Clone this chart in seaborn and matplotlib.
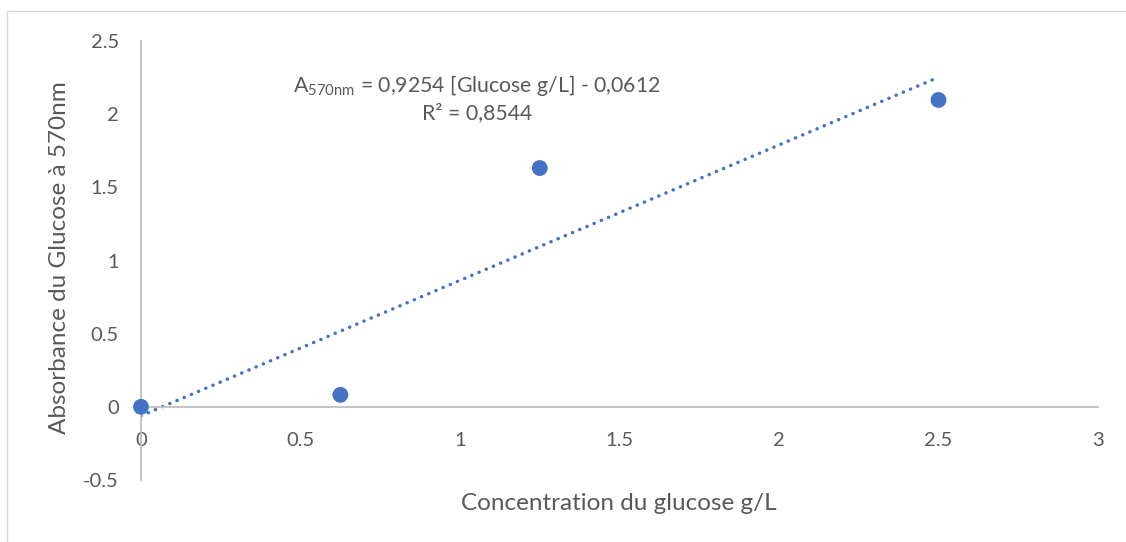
import numpy as np
import pandas as pd
import seaborn as sns
import matplotlib.pyplot as plt
from matplotlib.lines import Line2D

# data
conc = [0, 0.625, 1.25, 2.5]
absorb = [0, 0.082, 1.632, 2.097]
slope = 0.9254
intercept = -0.0612
r2 = "0,8544"

x_ticks = [0, 0.5, 1, 1.5, 2, 2.5, 3]
y_ticks = [-0.5, 0, 0.5, 1, 1.5, 2, 2.5]

df = pd.DataFrame({"conc": conc, "absorb": absorb})

sns.set_theme(style="white")
plt.rcParams["font.family"] = ["Lato", "DejaVu Sans"]
plt.rcParams["mathtext.fontset"] = "custom"
plt.rcParams["mathtext.rm"] = "Lato"

blue = "#4472C4"
grey_txt = "#595959"
grey_ax = "#BFBFBF"

fig = plt.figure(figsize=(11.26, 5.42), dpi=100)
ax = fig.add_axes([141 / 1126, 1 - 480 / 542, (1098 - 141) / 1126, (480 - 41) / 542])

# trendline over data range
xl = np.array([min(conc), max(conc)])
ax.plot(xl, slope * xl + intercept, color=blue, lw=2.5,
        linestyle=(0, (0.05, 2.2)), dash_capstyle="round", zorder=2)

sns.scatterplot(data=df, x="conc", y="absorb", ax=ax, color=blue, s=130,
                edgecolor="none", zorder=3, clip_on=False)

ax.set_xlim(0, 3)
ax.set_ylim(-0.5, 2.5)
ax.set_xticks(x_ticks)
ax.set_yticks(y_ticks)
ax.set_xticklabels([f"{t:g}" for t in x_ticks])
ax.set_yticklabels([f"{t:g}" for t in y_ticks])

for s in ["top", "right"]:
    ax.spines[s].set_visible(False)
ax.spines["left"].set_position(("data", 0))
ax.spines["bottom"].set_position(("data", 0))
ax.spines["left"].set_color(grey_ax)
ax.spines["bottom"].set_color(grey_ax)
ax.spines["left"].set_linewidth(1.3)
ax.spines["bottom"].set_linewidth(1.3)
ax.tick_params(length=0, labelsize=14.5, colors=grey_txt)
ax.tick_params(axis="x", pad=18)
ax.tick_params(axis="y", pad=16)
ax.set_facecolor("none")

ax.set_xlabel("")
ax.set_ylabel("")
fig.text(619 / 1126, 1 - 503 / 542, "Concentration du glucose g/L", ha="center",
         va="center", fontsize=17.5, color=grey_txt)
fig.text(60 / 1126, 1 - 258 / 542, "Absorbance du Glucose à 570nm", ha="center",
         va="center", rotation=90, fontsize=17.5, color=grey_txt)

fig.text(477 / 1126, 1 - 86 / 542,
         r"A$_{\mathregular{570nm}}$ = 0,9254 [Glucose g/L] - 0,0612",
         ha="center", va="center", fontsize=15.3, color=grey_txt)
fig.text(477 / 1126, 1 - 113 / 542, "R² = " + r2, ha="center", va="center",
         fontsize=15.3, color=grey_txt)

# chart area border
fig.add_artist(Line2D([7 / 1126, 1], [1 - 11 / 542, 1 - 11 / 542],
                      transform=fig.transFigure, color="#D9D9D9", lw=1))
fig.add_artist(Line2D([7 / 1126, 7 / 1126], [0, 1 - 11 / 542],
                      transform=fig.transFigure, color="#D9D9D9", lw=1))

fig.savefig("out.png", dpi=100)
